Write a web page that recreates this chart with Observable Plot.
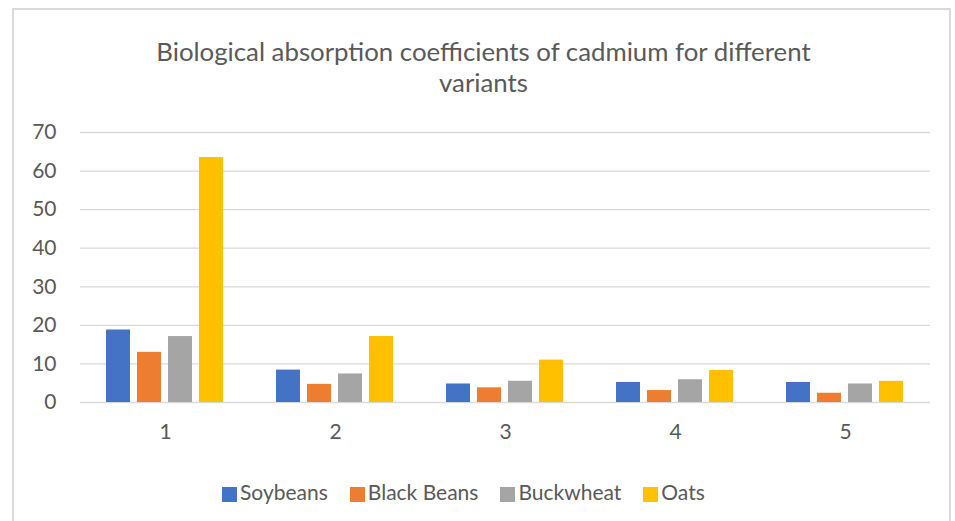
<!DOCTYPE html>
<html>
<head>
<meta charset="utf-8">
<script src="https://cdn.jsdelivr.net/npm/d3@7"></script>
<script src="https://cdn.jsdelivr.net/npm/@observablehq/plot@0.6"></script>
<style>
  html, body { margin: 0; padding: 0; background: #ffffff; }
  body { position: relative; width: 955px; height: 521px; overflow: hidden; font-family: Lato, "Open Sans", sans-serif; color: #595959; }
  #frame { position: absolute; left: 12px; top: 8px; width: 939px; height: 530px; border: 2px solid #dadada; box-sizing: border-box; }
  #title { position: absolute; left: 13px; width: 941px; top: 36px; text-align: center; font-size: 25.8px; line-height: 31px; color: #595959; }
  #chart { position: absolute; left: 0; top: 110px; }
  #legend { position: absolute; left: 222px; top: 479px; display: flex; align-items: center; font-size: 21px; color: #595959; }
  .item { display: flex; align-items: center; margin-right: 22px; }
  .sw { width: 15px; height: 15px; margin-right: 3px; position: relative; top: 3px; }
</style>
</head>
<body>
<div id="frame"></div>
<div id="title">Biological absorption coefficients of cadmium for different<br>variants</div>
<div id="chart"></div>
<div id="legend"></div>
<script>
const variants = ["1", "2", "3", "4", "5"];
const crops = ["Soybeans", "Black Beans", "Buckwheat", "Oats"];
const colors = ["#4472C4", "#ED7D31", "#A5A5A5", "#FFC000"];
const soybeans   = [18.8, 8.4, 4.8, 5.2, 5.2];
const blackBeans = [13.0, 4.7, 3.8, 3.1, 2.4];
const buckwheat  = [17.1, 7.4, 5.5, 5.9, 4.8];
const oats       = [63.5, 17.1, 11.0, 8.3, 5.5];
const yTicks = [0, 10, 20, 30, 40, 50, 60, 70];

const series = [soybeans, blackBeans, buckwheat, oats];
const data = [];
variants.forEach((v, i) => {
  crops.forEach((c, j) => data.push({variant: v, crop: c, value: series[j][i]}));
});

const chart = Plot.plot({
  width: 955,
  height: 340,
  marginLeft: 80,
  marginRight: 25,
  marginTop: 22,
  marginBottom: 48,
  style: {fontFamily: "Lato, 'Open Sans', sans-serif", color: "#595959", background: "transparent"},
  fx: {domain: variants, padding: 0, axis: null},
  x: {domain: crops, paddingInner: 0.22, paddingOuter: 0.842, axis: null},
  y: {domain: [0, 70], axis: null},
  color: {domain: crops, range: colors},
  marks: [
    Plot.ruleY(yTicks, {y: d => d, stroke: "#d9d9d9", strokeWidth: 1.3}),
    Plot.barY(data, {fx: "variant", x: "crop", y: "value", fill: "crop"}),
    Plot.axisY(yTicks, {tickSize: 0, tickPadding: 24, fontSize: 21, fill: "#595959", label: null}),
    Plot.axisFx({anchor: "bottom", tickSize: 0, tickPadding: 22, fontSize: 21, fill: "#595959", label: null})
  ]
});
document.getElementById("chart").appendChild(chart);

const legend = document.getElementById("legend");
crops.forEach((c, i) => {
  const item = document.createElement("div");
  item.className = "item";
  const sw = document.createElement("span");
  sw.className = "sw";
  sw.style.background = colors[i];
  const t = document.createElement("span");
  t.textContent = c;
  item.appendChild(sw);
  item.appendChild(t);
  legend.appendChild(item);
});
</script>
</body>
</html>
